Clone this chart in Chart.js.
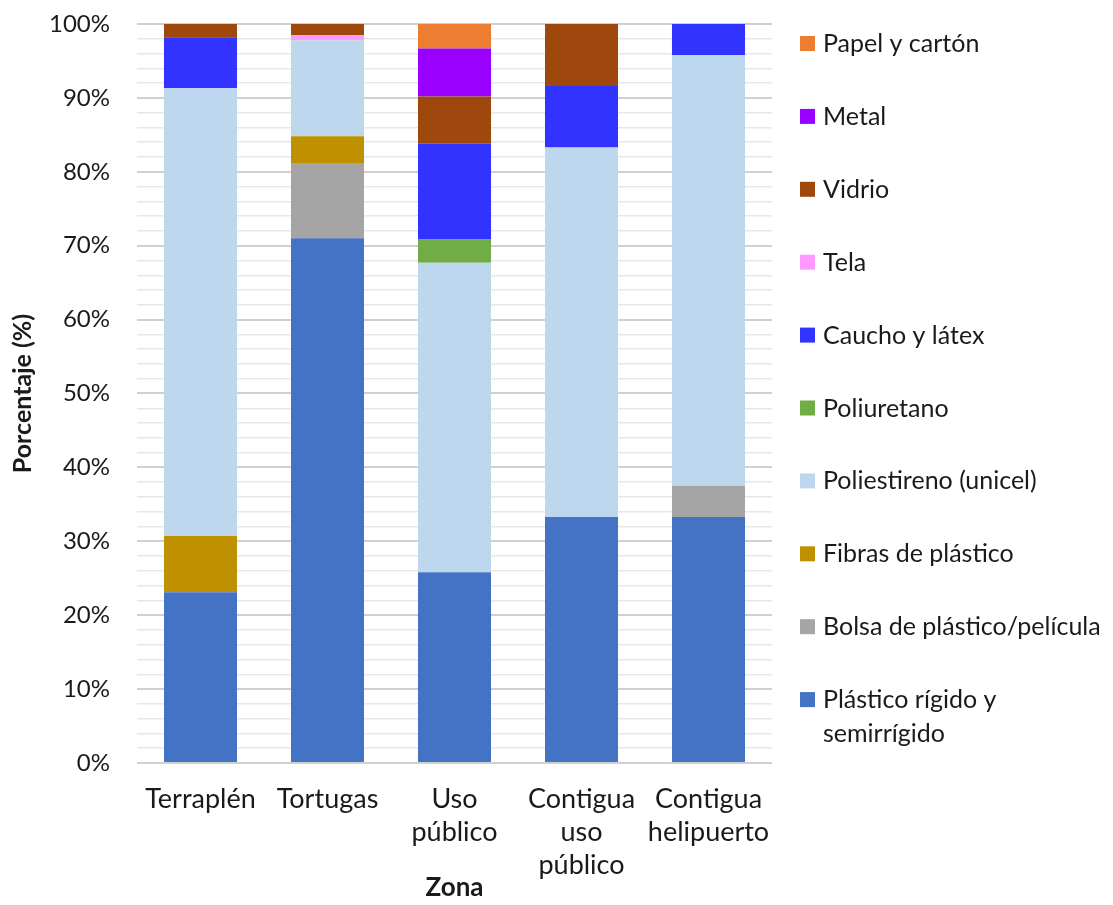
<!DOCTYPE html>
<html>
<head>
<meta charset="utf-8">
<script src="https://cdn.jsdelivr.net/npm/chart.js@4.4.1/dist/chart.umd.min.js"></script>
<style>
  html, body { margin: 0; padding: 0; background: #fff; }
  #wrap { width: 1113px; height: 905px; }
</style>
</head>
<body>
<div id="wrap"><canvas id="chart" width="1113" height="905"></canvas></div>
<script>
// Zones (x categories)
const zonas = ['Terraplén', 'Tortugas', ['Uso', 'público'], ['Contigua', 'uso', 'público'], ['Contigua', 'helipuerto']];

// Percent per material, one value per zone (bottom of stack first)
const plasticoRigido = [23.1, 71.0, 25.8, 33.3, 33.3];
const bolsaPlastico = [0, 10.2, 0, 0, 4.2];
const fibrasPlastico = [7.6, 3.6, 0, 0, 0];
const poliestireno = [60.6, 13.0, 41.9, 50.0, 58.3];
const poliuretano = [0, 0, 3.2, 0, 0];
const cauchoLatex = [6.9, 0, 12.9, 8.3, 4.2];
const tela = [0, 0.7, 0, 0, 0];
const vidrio = [1.8, 1.5, 6.4, 8.4, 0];
const metal = [0, 0, 6.5, 0, 0];
const papelCarton = [0, 0, 3.3, 0, 0];

const FONT = 'Lato, "DejaVu Sans", sans-serif';

const datasets = [
  { label: ['Plástico rígido y', 'semirrígido'], data: plasticoRigido, backgroundColor: '#4472C4' },
  { label: 'Bolsa de plástico/película', data: bolsaPlastico, backgroundColor: '#A5A5A5' },
  { label: 'Fibras de plástico', data: fibrasPlastico, backgroundColor: '#BF9000' },
  { label: 'Poliestireno (unicel)', data: poliestireno, backgroundColor: '#BDD7EE' },
  { label: 'Poliuretano', data: poliuretano, backgroundColor: '#70AD47' },
  { label: 'Caucho y látex', data: cauchoLatex, backgroundColor: '#3333FF' },
  { label: 'Tela', data: tela, backgroundColor: '#FF99FF' },
  { label: 'Vidrio', data: vidrio, backgroundColor: '#9E480E' },
  { label: 'Metal', data: metal, backgroundColor: '#9900FF' },
  { label: 'Papel y cartón', data: papelCarton, backgroundColor: '#ED7D31' }
];

// Legend on the right, spread over the plot height like Excel does
const sideLegend = {
  id: 'sideLegend',
  afterDraw(chart) {
    const ctx = chart.ctx;
    const area = chart.chartArea;
    const items = chart.data.datasets.slice().reverse();
    const step = 72.9;
    const y0 = area.top + 20;
    ctx.save();
    ctx.font = '25px ' + FONT;
    ctx.textBaseline = 'middle';
    ctx.textAlign = 'left';
    items.forEach((ds, i) => {
      const y = y0 + i * step;
      ctx.fillStyle = ds.backgroundColor;
      ctx.fillRect(800, y - 8, 15, 15);
      ctx.fillStyle = '#1a1a1a';
      const lines = Array.isArray(ds.label) ? ds.label : [ds.label];
      lines.forEach((t, j) => ctx.fillText(t, 823, y + j * 34));
    });
    ctx.restore();
  }
};

new Chart(document.getElementById('chart'), {
  type: 'bar',
  data: { labels: zonas, datasets: datasets },
  options: {
    responsive: false,
    animation: false,
    layout: { padding: { top: 24, right: 341, bottom: 2, left: 0 } },
    datasets: {
      bar: { categoryPercentage: 1, barPercentage: 0.575 }
    },
    plugins: {
      legend: { display: false },
      tooltip: { enabled: false }
    },
    scales: {
      x: {
        stacked: true,
        grid: { display: false },
        border: { display: false },
        ticks: {
          color: '#1a1a1a',
          font: { family: FONT, size: 27, lineHeight: 1.22 },
          padding: 12,
          maxRotation: 0,
          autoSkip: false
        },
        title: {
          display: true,
          text: 'Zona',
          color: '#1a1a1a',
          font: { family: FONT, size: 26, weight: 'bold' },
          padding: { top: -22, bottom: 0 }
        }
      },
      y: {
        stacked: true,
        min: 0,
        max: 100,
        border: { display: false },
        afterFit(scale) {
          scale.width = 137;
          scale.paddingTop = 0;
          scale.paddingBottom = 0;
        },
        grid: {
          drawTicks: false,
          color: c => (c.tick && c.tick.value % 10 === 0) ? '#D0D0D0' : '#E8E8E8',
          lineWidth: c => (c.tick && c.tick.value % 10 === 0) ? 2 : 1.5
        },
        ticks: {
          stepSize: 2,
          autoSkip: false,
          padding: 27,
          color: '#1a1a1a',
          font: { family: FONT, size: 24 },
          callback: v => (v % 10 === 0 ? v + '%' : '')
        },
        title: {
          display: true,
          text: 'Porcentaje (%)',
          color: '#1a1a1a',
          font: { family: FONT, size: 25, weight: 'bold' },
          padding: { top: 8, bottom: 0 }
        }
      }
    }
  },
  plugins: [sideLegend]
});
</script>
</body>
</html>
